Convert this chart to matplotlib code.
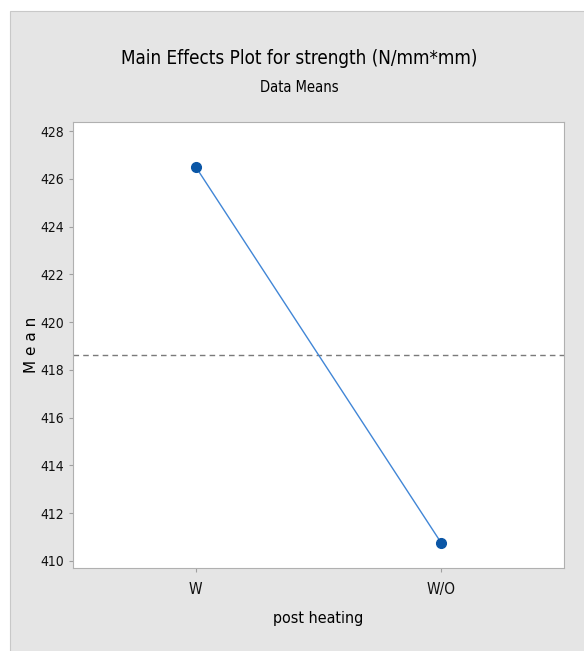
import numpy as np
import matplotlib.pyplot as plt
from matplotlib.patches import Rectangle

# data
levels = ["W", "W/O"]
means = [426.5, 410.75]
yticks = [410, 412, 414, 416, 418, 420, 422, 424, 426, 428]
grand_mean = np.mean(means)

plt.rcParams['font.family'] = ['DejaVu Sans']
plt.rcParams['font.stretch'] = 'condensed'

fig = plt.figure(figsize=(5.84, 6.51), dpi=100)
fig.patch.set_facecolor("white")
# gray panel behind the chart
fig.patches.append(Rectangle((10 / 584, -0.01), 1, 1 - 11 / 651 + 0.01, transform=fig.transFigure,
                             facecolor="#e5e5e5", edgecolor="#c8c8c8", lw=0.8, zorder=-5))

ax = fig.add_axes([73 / 584, 1 - 568 / 651, (564 - 73) / 584, (568 - 122) / 651])
ax.set_facecolor("white")

x = np.arange(1, len(levels) + 1)
ax.plot(x, means, color="#4186d6", lw=1.0, zorder=2)
ax.plot(x, means, "o", color="#0a56a6", ms=7, zorder=3)
ax.axhline(grand_mean, color="#7a7a7a", ls=(0, (4, 3)), lw=1.0, zorder=1)

ax.set_xlim(0.5, 2.5)
ax.set_ylim(409.7, 428.38)
ax.set_xticks(x)
ax.set_xticklabels(levels, fontsize=11)
ax.set_yticks(yticks)
ax.set_yticklabels([str(t) for t in yticks], fontsize=10)
ax.tick_params(length=3, color="#a0a0a0", width=0.8, labelcolor="#111111")
ax.tick_params(axis="x", pad=7)
for s in ax.spines.values():
    s.set_color("#b0b0b0")
    s.set_linewidth(0.8)

ax.set_xlabel("post heating", fontsize=11.5, labelpad=10)
ax.set_ylabel("M e a n", fontsize=11, labelpad=1, fontstretch="normal")

fig.text(0.513, 1 - 58 / 651, "Main Effects Plot for strength (N/mm*mm)", ha="center", va="center", fontsize=13.5)
fig.text(0.513, 1 - 88 / 651, "Data Means", ha="center", va="center", fontsize=10.5)

fig.savefig("out.png", dpi=100)
